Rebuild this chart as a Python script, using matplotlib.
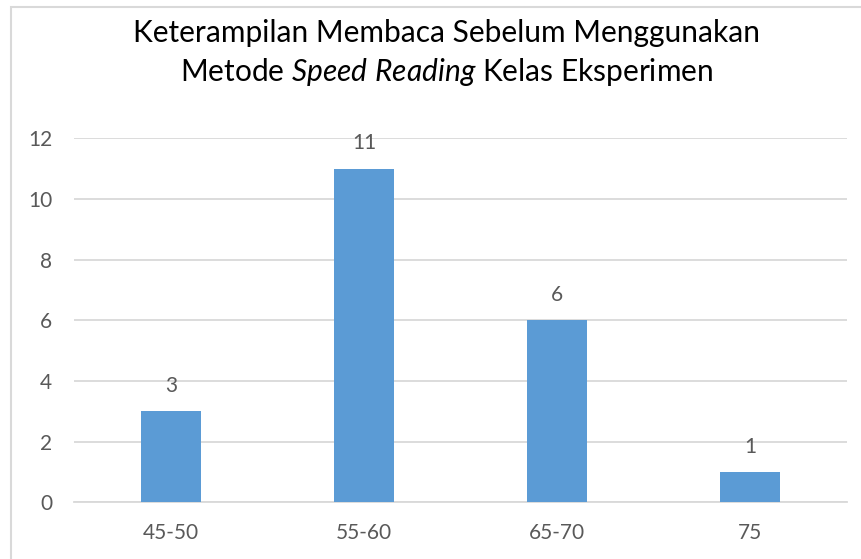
import matplotlib.pyplot as plt
from matplotlib.patches import Rectangle

# data
categories = ['45-50', '55-60', '65-70', '75']
counts = [3, 11, 6, 1]
y_ticks = [0, 2, 4, 6, 8, 10, 12]

BAR_COLOR = '#5B9BD5'
GRID_COLOR = '#D9D9D9'
TEXT_COLOR = '#595959'
FONT = 'Lato'

plt.rcParams['font.family'] = [FONT, 'DejaVu Sans']
plt.rcParams['mathtext.fontset'] = 'custom'
plt.rcParams['mathtext.rm'] = FONT
plt.rcParams['mathtext.it'] = FONT + ':italic'


def main():
    fig = plt.figure(figsize=(8.61, 5.59), dpi=100)
    ax = fig.add_axes([0.0865, 0.1014, 0.8972, 0.6512])

    # chart border (cropped on the right and bottom like the original)
    fig.patches.append(Rectangle((11 / 861, -0.1), 1.2, (559 - 7) / 559 + 0.1,
                                 transform=fig.transFigure, fill=False,
                                 edgecolor=GRID_COLOR, linewidth=1.5))

    x = range(len(categories))
    bars = ax.bar(x, counts, width=0.31, color=BAR_COLOR, zorder=3)
    for b, v in zip(bars, counts):
        ax.annotate(str(v), (b.get_x() + b.get_width() / 2, v),
                    xytext=(0, 11), textcoords='offset points',
                    ha='center', va='bottom', fontsize=15, color=TEXT_COLOR)

    ax.set_xlim(-0.5, len(categories) - 0.5)
    ax.set_ylim(0, 12)
    ax.set_yticks(y_ticks)
    ax.set_xticks(list(x))
    ax.set_xticklabels(categories)
    ax.yaxis.grid(True, color=GRID_COLOR, linewidth=1.3, zorder=0)
    ax.set_axisbelow(True)
    for s in ['top', 'right', 'left']:
        ax.spines[s].set_visible(False)
    ax.spines['bottom'].set_color(GRID_COLOR)
    ax.spines['bottom'].set_linewidth(1.3)
    ax.tick_params(axis='both', length=0, labelsize=15, colors=TEXT_COLOR)
    ax.tick_params(axis='y', pad=16)
    ax.tick_params(axis='x', pad=15)

    fig.text(0.519, 1 - 33 / 559, 'Keterampilan Membaca Sebelum Menggunakan',
             ha='center', va='center', fontsize=21.5, color='black')
    fig.text(0.519, 1 - 72 / 559,
             r'Metode $\mathit{Speed\ Reading}$ Kelas Eksperimen',
             ha='center', va='center', fontsize=21.5, color='black')

    fig.savefig('out.png', dpi=100)


if __name__ == '__main__':
    main()
